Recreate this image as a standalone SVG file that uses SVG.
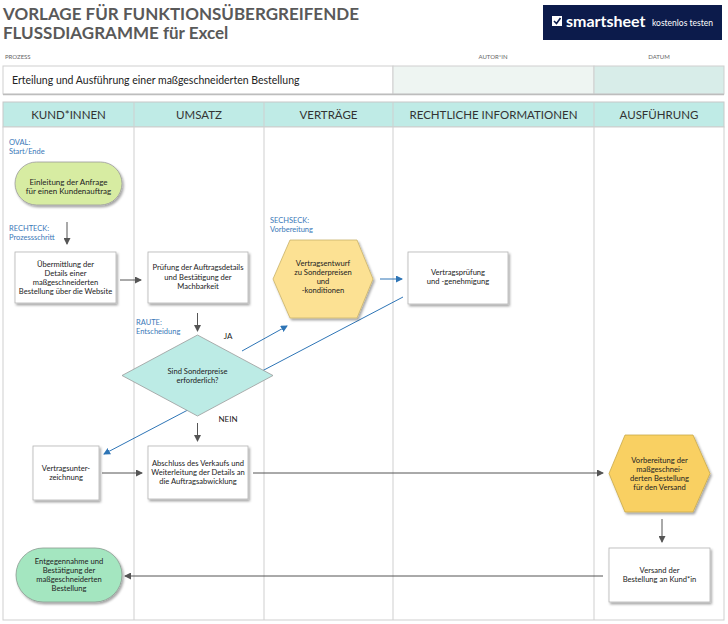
<svg xmlns="http://www.w3.org/2000/svg" width="728" height="624" viewBox="0 0 728 624">
<style>
text{font-family:Lato,"Open Sans","Liberation Sans",sans-serif;}
.title{font-size:17px;font-weight:bold;fill:#595959;}
.small{font-size:6px;fill:#666;}
.hdr{font-size:11.5px;fill:#333;text-anchor:middle;}
.node{font-size:7.6px;fill:#222;text-anchor:middle;}
.lbl{font-size:7.5px;fill:#3a78b8;}
.tag{font-size:8px;fill:#222;text-anchor:middle;}
.lane{stroke:#cfcfcf;stroke-width:1;fill:none;}
.box{fill:#fff;stroke:#b5b5b5;stroke-width:0.8;}
.gl{stroke:#555;stroke-width:1;fill:none;marker-end:url(#ag);}
.bl{stroke:#2e75b6;stroke-width:1;fill:none;marker-end:url(#ab);}
</style>
<defs>
<marker id="ag" markerUnits="userSpaceOnUse" markerWidth="7" markerHeight="7" refX="6" refY="3.5" orient="auto"><path d="M0,0 L7,3.5 L0,7 z" fill="#555"/></marker>
<marker id="ab" markerUnits="userSpaceOnUse" markerWidth="7" markerHeight="7" refX="6" refY="3.5" orient="auto"><path d="M0,0 L7,3.5 L0,7 z" fill="#2e75b6"/></marker>
<filter id="sh" x="-20%" y="-20%" width="140%" height="150%"><feDropShadow dx="1.5" dy="2" stdDeviation="1.2" flood-color="#000" flood-opacity="0.35"/></filter>
</defs>
<rect x="0" y="0" width="728" height="624" fill="#fff"/>

<g id="header">
<text class="title" x="3" y="20">VORLAGE FÜR FUNKTIONSÜBERGREIFENDE</text>
<text class="title" x="3" y="39">FLUSSDIAGRAMME für Excel</text>
<rect x="543" y="5" width="179" height="35" fill="#0c1b4b"/>
<rect x="552" y="16" width="10" height="10" fill="#fff"/>
<path d="M554,21 L556.5,23.5 L560.5,18" stroke="#0c1b4b" stroke-width="1.6" fill="none"/>
<text x="566" y="27" style="font-size:16px;font-weight:bold;fill:#fff;">smartsheet</text>
<text x="652" y="26" style="font-size:8.5px;fill:#fff;">kostenlos testen</text>
<text class="small" x="5" y="59">PROZESS</text>
<text class="small" x="493" y="59" text-anchor="middle">AUTOR*IN</text>
<text class="small" x="659" y="59" text-anchor="middle">DATUM</text>
<rect x="3" y="66" width="390" height="28" fill="#fff" stroke="#cfcfcf"/>
<rect x="393" y="66" width="201" height="28" fill="#eef5f2" stroke="#cfcfcf"/>
<rect x="594" y="66" width="130" height="28" fill="#d8ede9" stroke="#cfcfcf"/>
<line x1="3" y1="94.5" x2="724" y2="94.5" stroke="#bdbdbd" stroke-width="1.5"/>
<text x="12" y="84" style="font-size:10.5px;fill:#222;">Erteilung und Ausführung einer maßgeschneiderten Bestellung</text>
</g>

<g id="lanes">
<rect x="3" y="102" width="721" height="25" fill="#bfebe6" stroke="#c8c8c8"/>
<rect x="3" y="127" width="721" height="493" fill="#fff" stroke="#cfcfcf"/>
<line class="lane" x1="134" y1="102" x2="134" y2="620"/>
<line class="lane" x1="264" y1="102" x2="264" y2="620"/>
<line class="lane" x1="393" y1="102" x2="393" y2="620"/>
<line class="lane" x1="594" y1="102" x2="594" y2="620"/>
<text class="hdr" x="68.5" y="118.5">KUND*INNEN</text>
<text class="hdr" x="199" y="118.5">UMSATZ</text>
<text class="hdr" x="328.5" y="118.5">VERTRÄGE</text>
<text class="hdr" x="493.5" y="118.5">RECHTLICHE INFORMATIONEN</text>
<text class="hdr" x="659" y="118.5">AUSFÜHRUNG</text>
</g>

<g id="legend">
<text class="lbl" x="9" y="145">OVAL:</text>
<text class="lbl" x="9" y="154">Start/Ende</text>
<text class="lbl" x="9" y="231">RECHTECK:</text>
<text class="lbl" x="9" y="240">Prozessschritt</text>
<text class="lbl" x="270" y="223">SECHSECK:</text>
<text class="lbl" x="270" y="232">Vorbereitung</text>
<text class="lbl" x="136" y="325">RAUTE:</text>
<text class="lbl" x="136" y="334">Entscheidung</text>
</g>

<g id="connectors">
<line class="gl" x1="67" y1="222" x2="67" y2="244"/>
<line class="gl" x1="120" y1="280" x2="141" y2="280"/>
<line class="gl" x1="197.5" y1="313" x2="197.5" y2="331"/>
<line class="gl" x1="197.5" y1="423" x2="197.5" y2="441"/>
<line class="bl" x1="242" y1="351" x2="287" y2="326"/>
<line class="bl" x1="380" y1="279" x2="402" y2="279"/>
<line class="bl" x1="403" y1="297" x2="104" y2="454"/>
<line class="gl" x1="102" y1="473" x2="142" y2="473"/>
<line class="gl" x1="253" y1="473" x2="603" y2="473"/>
<line class="gl" x1="662" y1="519" x2="662" y2="542"/>
<line class="gl" x1="603" y1="576" x2="125" y2="576"/>
<text class="tag" x="228" y="339">JA</text>
<text class="tag" x="228" y="422">NEIN</text>
</g>

<g id="n1">
<rect x="15" y="162" width="107" height="43" rx="21.5" fill="#d7eca2" stroke="#9a9a9a" stroke-width="0.8" filter="url(#sh)"/>
<text class="node" x="68.5" y="184.5" style="font-size:8px">Einleitung der Anfrage</text>
<text class="node" x="68.5" y="194" style="font-size:8px">für einen Kundenauftrag</text>
</g>

<g id="n2">
<rect class="box" x="15" y="252" width="101" height="51" filter="url(#sh)"/>
<text class="node" x="65.5" y="267">Übermittlung der</text>
<text class="node" x="65.5" y="276">Details einer</text>
<text class="node" x="65.5" y="285">maßgeschneiderten</text>
<text class="node" x="65.5" y="294">Bestellung über die Website</text>
</g>

<g id="n3">
<rect class="box" x="148" y="252" width="100" height="51" filter="url(#sh)"/>
<text class="node" x="198" y="270">Prüfung der Auftragsdetails</text>
<text class="node" x="198" y="279.5">und Bestätigung der</text>
<text class="node" x="198" y="289">Machbarkeit</text>
</g>

<g id="n4">
<polygon points="273,279 290,240 357,240 373,279 357,318 290,318" fill="#fce193" stroke="#c9b26a" stroke-width="0.8" filter="url(#sh)"/>
<text class="node" x="323" y="266">Vertragsentwurf</text>
<text class="node" x="323" y="275">zu Sonderpreisen</text>
<text class="node" x="323" y="284">und</text>
<text class="node" x="323" y="293">-konditionen</text>
</g>

<g id="n5">
<rect class="box" x="408" y="252" width="100" height="52" filter="url(#sh)"/>
<text class="node" x="458" y="275">Vertragsprüfung</text>
<text class="node" x="458" y="284">und -genehmigung</text>
</g>

<g id="n6">
<polygon points="122,375.5 197.5,335 273,375.5 197.5,416" fill="#bcebe5" stroke="#9a9a9a" stroke-width="0.8"/>
<text class="node" x="197.5" y="373.5">Sind Sonderpreise</text>
<text class="node" x="197.5" y="382.5">erforderlich?</text>
</g>

<g id="n7">
<rect class="box" x="33" y="446" width="66" height="54" filter="url(#sh)"/>
<text class="node" x="66" y="470.5">Vertragsunter-</text>
<text class="node" x="66" y="479.5">zeichnung</text>
</g>

<g id="n8">
<rect class="box" x="148" y="446" width="100" height="53" filter="url(#sh)"/>
<text class="node" x="198" y="465.5">Abschluss des Verkaufs und</text>
<text class="node" x="198" y="474.5">Weiterleitung der Details an</text>
<text class="node" x="198" y="483.5">die Auftragsabwicklung</text>
</g>

<g id="n9">
<polygon points="609,473.5 625,435 693,435 710,473.5 693,512 625,512" fill="#f9d062" stroke="#c9a94a" stroke-width="0.8" filter="url(#sh)"/>
<text class="node" x="659.5" y="463">Vorbereitung der</text>
<text class="node" x="659.5" y="472">maßgeschnei-</text>
<text class="node" x="659.5" y="481">derten Bestellung</text>
<text class="node" x="659.5" y="490">für den Versand</text>
</g>

<g id="n10">
<rect class="box" x="609" y="548" width="101" height="54" filter="url(#sh)"/>
<text class="node" x="659.5" y="572.5">Versand der</text>
<text class="node" x="659.5" y="581.5">Bestellung an Kund*in</text>
</g>

<g id="n11">
<rect x="16" y="548" width="106" height="54" rx="27" fill="#a4e6c0" stroke="#8a9a90" stroke-width="0.8" filter="url(#sh)"/>
<text class="node" x="69" y="564">Entgegennahme und</text>
<text class="node" x="69" y="573">Bestätigung der</text>
<text class="node" x="69" y="582">maßgeschneiderten</text>
<text class="node" x="69" y="591">Bestellung</text>
</g>
</svg>
